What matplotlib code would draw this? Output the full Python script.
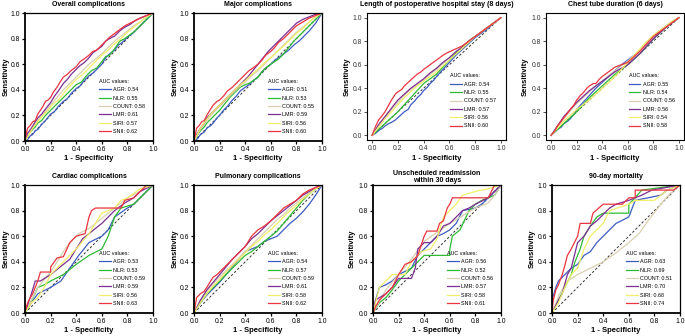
import matplotlib
matplotlib.use('Agg')
import matplotlib.pyplot as plt

plt.rcParams['font.family'] = ['Liberation Sans', 'DejaVu Sans']

# ---------------- data ----------------
names = ['AGR', 'NLR', 'COUNT', 'LMR', 'SIRI', 'SNII']
colors = ['#3d5cc0', '#2fba34', '#d8d0b0', '#7b2f91', '#f1ee6a', '#ea3440']

titles = ['Overall complications', 'Major complications',
          'Length of postoperative hospital stay (8 days)', 'Chest tube duration (6 days)',
          'Cardiac complications', 'Pulmonary complications',
          'Unscheduled readmission\nwithin 30 days', '90-day mortality']

auc_overall = [0.54, 0.55, 0.58, 0.61, 0.57, 0.62]
auc_major = [0.51, 0.53, 0.55, 0.59, 0.56, 0.60]
auc_length = [0.54, 0.55, 0.57, 0.57, 0.56, 0.60]
auc_chest = [0.55, 0.54, 0.56, 0.56, 0.54, 0.58]
auc_cardiac = [0.53, 0.53, 0.59, 0.59, 0.56, 0.63]
auc_pulm = [0.54, 0.57, 0.59, 0.61, 0.58, 0.62]
auc_readm = [0.56, 0.52, 0.56, 0.57, 0.58, 0.61]
auc_mort = [0.63, 0.69, 0.51, 0.70, 0.68, 0.74]

# ROC curves as (1-specificity, sensitivity) points
overall_AGR = [(0, 0), (0.02, 0.01), (0.04, 0.04), (0.06, 0.05), (0.08, 0.08), (0.1, 0.09), (0.13, 0.13), (0.16, 0.16), (0.2, 0.21), (0.23, 0.23), (0.26, 0.27), (0.3, 0.31), (0.33, 0.33), (0.36, 0.37), (0.4, 0.41), (0.43, 0.43), (0.46, 0.47), (0.5, 0.51), (0.53, 0.53), (0.56, 0.56), (0.6, 0.6), (0.63, 0.65), (0.66, 0.68), (0.7, 0.71), (0.73, 0.75), (0.76, 0.77), (0.8, 0.81), (0.84, 0.84), (0.88, 0.88), (0.92, 0.92), (0.96, 0.96), (1, 1)]
overall_NLR = [(0, 0), (0.02, 0.04), (0.05, 0.08), (0.08, 0.11), (0.1, 0.14), (0.13, 0.16), (0.16, 0.2), (0.2, 0.24), (0.24, 0.28), (0.28, 0.32), (0.32, 0.36), (0.36, 0.4), (0.4, 0.44), (0.44, 0.46), (0.48, 0.51), (0.52, 0.55), (0.56, 0.57), (0.6, 0.62), (0.63, 0.66), (0.66, 0.67), (0.7, 0.72), (0.74, 0.78), (0.78, 0.8), (0.82, 0.83), (0.86, 0.86), (0.9, 0.9), (0.95, 0.95), (1, 1)]
overall_COUNT = [(0, 0), (0.05, 0.09), (0.1, 0.16), (0.15, 0.22), (0.2, 0.28), (0.25, 0.34), (0.3, 0.4), (0.35, 0.45), (0.4, 0.5), (0.45, 0.55), (0.5, 0.6), (0.55, 0.64), (0.6, 0.68), (0.65, 0.73), (0.7, 0.78), (0.75, 0.82), (0.8, 0.86), (0.85, 0.9), (0.9, 0.93), (0.95, 0.97), (1, 1)]
overall_LMR = [(0, 0), (0.02, 0.06), (0.05, 0.1), (0.08, 0.15), (0.1, 0.18), (0.13, 0.21), (0.16, 0.25), (0.2, 0.3), (0.23, 0.35), (0.26, 0.39), (0.3, 0.45), (0.33, 0.48), (0.36, 0.52), (0.4, 0.56), (0.43, 0.59), (0.46, 0.61), (0.5, 0.65), (0.53, 0.69), (0.56, 0.71), (0.6, 0.74), (0.63, 0.78), (0.66, 0.8), (0.7, 0.82), (0.74, 0.86), (0.78, 0.89), (0.82, 0.91), (0.86, 0.94), (0.9, 0.96), (0.95, 0.98), (1, 1)]
overall_SIRI = [(0, 0), (0.03, 0.05), (0.06, 0.1), (0.1, 0.15), (0.14, 0.2), (0.18, 0.24), (0.22, 0.29), (0.26, 0.32), (0.3, 0.37), (0.35, 0.43), (0.4, 0.48), (0.45, 0.52), (0.5, 0.57), (0.55, 0.62), (0.6, 0.67), (0.65, 0.71), (0.7, 0.76), (0.75, 0.8), (0.8, 0.85), (0.85, 0.89), (0.9, 0.93), (0.95, 0.97), (1, 1)]
overall_SNII = [(0, 0), (0.01, 0.06), (0.02, 0.1), (0.04, 0.12), (0.06, 0.15), (0.08, 0.16), (0.1, 0.21), (0.12, 0.24), (0.14, 0.27), (0.16, 0.31), (0.18, 0.32), (0.2, 0.34), (0.22, 0.38), (0.25, 0.42), (0.28, 0.47), (0.3, 0.5), (0.33, 0.52), (0.36, 0.55), (0.4, 0.58), (0.43, 0.62), (0.46, 0.64), (0.5, 0.67), (0.53, 0.7), (0.56, 0.71), (0.6, 0.75), (0.63, 0.78), (0.66, 0.81), (0.7, 0.84), (0.74, 0.87), (0.78, 0.9), (0.82, 0.92), (0.86, 0.94), (0.9, 0.96), (0.95, 0.98), (1, 1)]

major_AGR = [(0, 0), (0.03, 0.02), (0.05, 0.05), (0.08, 0.07), (0.1, 0.1), (0.13, 0.12), (0.15, 0.14), (0.18, 0.18), (0.2, 0.2), (0.23, 0.24), (0.26, 0.27), (0.3, 0.32), (0.33, 0.35), (0.36, 0.39), (0.4, 0.42), (0.43, 0.44), (0.46, 0.47), (0.5, 0.5), (0.53, 0.54), (0.56, 0.57), (0.6, 0.6), (0.63, 0.63), (0.66, 0.65), (0.7, 0.68), (0.74, 0.71), (0.78, 0.75), (0.82, 0.78), (0.86, 0.82), (0.9, 0.86), (0.95, 0.92), (1, 1)]
major_NLR = [(0, 0), (0.03, 0.05), (0.05, 0.08), (0.08, 0.11), (0.1, 0.14), (0.13, 0.17), (0.16, 0.2), (0.2, 0.24), (0.24, 0.29), (0.28, 0.34), (0.32, 0.38), (0.36, 0.42), (0.4, 0.44), (0.43, 0.45), (0.46, 0.47), (0.5, 0.5), (0.53, 0.54), (0.56, 0.57), (0.6, 0.6), (0.63, 0.62), (0.66, 0.64), (0.7, 0.68), (0.74, 0.73), (0.78, 0.78), (0.82, 0.82), (0.86, 0.86), (0.9, 0.9), (0.95, 0.95), (1, 1)]
major_COUNT = [(0, 0), (0.05, 0.09), (0.1, 0.16), (0.15, 0.22), (0.2, 0.27), (0.25, 0.32), (0.3, 0.37), (0.35, 0.42), (0.4, 0.46), (0.45, 0.51), (0.5, 0.55), (0.55, 0.6), (0.6, 0.65), (0.65, 0.7), (0.7, 0.75), (0.75, 0.8), (0.8, 0.85), (0.85, 0.89), (0.9, 0.93), (0.95, 0.97), (1, 1)]
major_LMR = [(0, 0), (0.02, 0.05), (0.05, 0.1), (0.08, 0.14), (0.1, 0.18), (0.14, 0.22), (0.18, 0.26), (0.22, 0.3), (0.26, 0.34), (0.3, 0.38), (0.34, 0.42), (0.38, 0.46), (0.42, 0.5), (0.46, 0.55), (0.5, 0.6), (0.54, 0.65), (0.58, 0.7), (0.62, 0.74), (0.66, 0.78), (0.7, 0.82), (0.75, 0.87), (0.8, 0.92), (0.85, 0.95), (0.9, 0.97), (0.95, 0.99), (1, 1)]
major_SIRI = [(0, 0), (0.05, 0.1), (0.1, 0.17), (0.15, 0.23), (0.2, 0.28), (0.25, 0.33), (0.3, 0.38), (0.35, 0.43), (0.4, 0.47), (0.45, 0.52), (0.5, 0.56), (0.55, 0.61), (0.6, 0.65), (0.65, 0.7), (0.7, 0.74), (0.75, 0.79), (0.8, 0.84), (0.85, 0.88), (0.9, 0.93), (0.95, 0.97), (1, 1)]
major_SNII = [(0, 0), (0.01, 0.05), (0.02, 0.1), (0.04, 0.12), (0.06, 0.15), (0.08, 0.16), (0.1, 0.2), (0.13, 0.25), (0.15, 0.28), (0.18, 0.31), (0.2, 0.32), (0.23, 0.35), (0.26, 0.39), (0.3, 0.42), (0.33, 0.45), (0.36, 0.48), (0.4, 0.52), (0.43, 0.55), (0.46, 0.57), (0.5, 0.6), (0.53, 0.63), (0.56, 0.67), (0.6, 0.7), (0.63, 0.73), (0.66, 0.77), (0.7, 0.8), (0.75, 0.85), (0.8, 0.9), (0.85, 0.93), (0.9, 0.96), (0.95, 0.98), (1, 1)]

length_AGR = [(0, 0), (0.03, 0.02), (0.05, 0.04), (0.08, 0.06), (0.1, 0.08), (0.13, 0.1), (0.15, 0.11), (0.18, 0.13), (0.2, 0.15), (0.23, 0.18), (0.25, 0.2), (0.28, 0.22), (0.3, 0.26), (0.33, 0.29), (0.35, 0.32), (0.38, 0.35), (0.4, 0.38), (0.43, 0.41), (0.45, 0.44), (0.48, 0.47), (0.5, 0.5), (0.55, 0.56), (0.6, 0.62), (0.65, 0.68), (0.7, 0.73), (0.75, 0.78), (0.8, 0.83), (0.85, 0.87), (0.9, 0.91), (0.95, 0.96), (1, 1)]
length_NLR = [(0, 0), (0.05, 0.05), (0.1, 0.1), (0.15, 0.15), (0.2, 0.2), (0.25, 0.26), (0.3, 0.32), (0.35, 0.38), (0.4, 0.44), (0.45, 0.48), (0.5, 0.52), (0.55, 0.58), (0.6, 0.64), (0.65, 0.7), (0.7, 0.75), (0.75, 0.8), (0.8, 0.84), (0.85, 0.88), (0.9, 0.92), (0.95, 0.96), (1, 1)]
length_COUNT = [(0, 0), (0.05, 0.08), (0.1, 0.15), (0.15, 0.22), (0.2, 0.28), (0.25, 0.34), (0.3, 0.39), (0.35, 0.43), (0.4, 0.47), (0.45, 0.52), (0.5, 0.56), (0.55, 0.61), (0.6, 0.66), (0.65, 0.71), (0.7, 0.75), (0.75, 0.8), (0.8, 0.84), (0.85, 0.88), (0.9, 0.92), (0.95, 0.96), (1, 1)]
length_LMR = [(0, 0), (0.05, 0.09), (0.1, 0.16), (0.15, 0.23), (0.2, 0.3), (0.25, 0.35), (0.3, 0.4), (0.35, 0.44), (0.4, 0.48), (0.45, 0.53), (0.5, 0.57), (0.55, 0.62), (0.6, 0.66), (0.65, 0.71), (0.7, 0.75), (0.75, 0.8), (0.8, 0.84), (0.85, 0.88), (0.9, 0.92), (0.95, 0.96), (1, 1)]
length_SIRI = [(0, 0), (0.05, 0.07), (0.1, 0.14), (0.15, 0.2), (0.2, 0.26), (0.25, 0.32), (0.3, 0.37), (0.35, 0.42), (0.4, 0.46), (0.45, 0.5), (0.5, 0.54), (0.55, 0.59), (0.6, 0.64), (0.65, 0.69), (0.7, 0.74), (0.75, 0.79), (0.8, 0.84), (0.85, 0.88), (0.9, 0.92), (0.95, 0.96), (1, 1)]
length_SNII = [(0, 0), (0.02, 0.06), (0.05, 0.13), (0.08, 0.17), (0.1, 0.2), (0.13, 0.26), (0.15, 0.3), (0.18, 0.35), (0.2, 0.37), (0.23, 0.39), (0.25, 0.42), (0.28, 0.45), (0.3, 0.47), (0.33, 0.5), (0.35, 0.52), (0.38, 0.54), (0.4, 0.56), (0.45, 0.6), (0.5, 0.64), (0.55, 0.68), (0.58, 0.7), (0.62, 0.72), (0.66, 0.74), (0.7, 0.76), (0.75, 0.8), (0.8, 0.84), (0.85, 0.88), (0.9, 0.92), (0.95, 0.96), (1, 1)]

chest_AGR = [(0, 0), (0.03, 0.03), (0.05, 0.05), (0.08, 0.07), (0.1, 0.1), (0.13, 0.12), (0.15, 0.14), (0.18, 0.18), (0.2, 0.22), (0.25, 0.28), (0.3, 0.34), (0.35, 0.4), (0.4, 0.45), (0.45, 0.5), (0.5, 0.55), (0.55, 0.6), (0.6, 0.64), (0.65, 0.68), (0.7, 0.73), (0.75, 0.79), (0.8, 0.84), (0.85, 0.89), (0.9, 0.93), (0.95, 0.97), (1, 1)]
chest_NLR = [(0, 0), (0.05, 0.05), (0.1, 0.1), (0.15, 0.15), (0.2, 0.2), (0.25, 0.26), (0.3, 0.32), (0.35, 0.37), (0.4, 0.42), (0.45, 0.47), (0.5, 0.52), (0.55, 0.56), (0.6, 0.6), (0.65, 0.65), (0.7, 0.7), (0.75, 0.76), (0.8, 0.82), (0.85, 0.87), (0.9, 0.92), (0.95, 0.96), (1, 1)]
chest_COUNT = [(0, 0), (0.05, 0.07), (0.1, 0.14), (0.15, 0.21), (0.2, 0.27), (0.25, 0.32), (0.3, 0.37), (0.35, 0.42), (0.4, 0.46), (0.45, 0.51), (0.5, 0.55), (0.55, 0.59), (0.6, 0.63), (0.65, 0.68), (0.7, 0.73), (0.75, 0.79), (0.8, 0.84), (0.85, 0.89), (0.9, 0.93), (0.95, 0.97), (1, 1)]
chest_LMR = [(0, 0), (0.05, 0.08), (0.1, 0.16), (0.15, 0.22), (0.2, 0.28), (0.25, 0.33), (0.3, 0.38), (0.35, 0.42), (0.4, 0.46), (0.45, 0.5), (0.5, 0.54), (0.55, 0.57), (0.6, 0.6), (0.65, 0.65), (0.7, 0.7), (0.75, 0.76), (0.8, 0.82), (0.85, 0.87), (0.9, 0.92), (0.95, 0.96), (1, 1)]
chest_SIRI = [(0, 0), (0.05, 0.06), (0.1, 0.12), (0.15, 0.17), (0.2, 0.22), (0.25, 0.26), (0.3, 0.3), (0.35, 0.35), (0.4, 0.4), (0.45, 0.45), (0.5, 0.5), (0.55, 0.56), (0.6, 0.62), (0.65, 0.68), (0.7, 0.74), (0.75, 0.8), (0.8, 0.85), (0.85, 0.89), (0.9, 0.93), (0.95, 0.97), (1, 1)]
chest_SNII = [(0, 0), (0.03, 0.04), (0.05, 0.08), (0.08, 0.12), (0.1, 0.15), (0.13, 0.19), (0.15, 0.22), (0.18, 0.26), (0.2, 0.3), (0.23, 0.34), (0.25, 0.36), (0.28, 0.4), (0.3, 0.42), (0.33, 0.44), (0.35, 0.44), (0.38, 0.48), (0.4, 0.5), (0.45, 0.54), (0.5, 0.58), (0.55, 0.6), (0.6, 0.62), (0.65, 0.67), (0.7, 0.72), (0.75, 0.78), (0.8, 0.84), (0.85, 0.88), (0.9, 0.92), (0.95, 0.96), (1, 1)]

cardiac_AGR = [(0, 0), (0.05, 0.08), (0.1, 0.15), (0.2, 0.2), (0.28, 0.25), (0.35, 0.35), (0.42, 0.45), (0.5, 0.55), (0.6, 0.6), (0.65, 0.65), (0.7, 0.75), (0.8, 0.82), (0.85, 0.85), (0.9, 0.9), (1, 1)]
cardiac_NLR = [(0, 0), (0.03, 0.05), (0.1, 0.2), (0.15, 0.22), (0.2, 0.25), (0.3, 0.3), (0.4, 0.38), (0.5, 0.45), (0.6, 0.5), (0.65, 0.6), (0.7, 0.75), (0.75, 0.82), (0.85, 0.85), (0.9, 0.9), (1, 1)]
cardiac_COUNT = [(0, 0), (0.05, 0.1), (0.1, 0.2), (0.2, 0.32), (0.3, 0.48), (0.35, 0.55), (0.42, 0.62), (0.5, 0.66), (0.6, 0.74), (0.7, 0.82), (0.8, 0.9), (0.9, 0.95), (1, 1)]
cardiac_LMR = [(0, 0), (0.05, 0.15), (0.08, 0.25), (0.12, 0.25), (0.2, 0.3), (0.3, 0.38), (0.35, 0.42), (0.4, 0.5), (0.45, 0.58), (0.5, 0.62), (0.55, 0.66), (0.6, 0.7), (0.65, 0.75), (0.7, 0.8), (0.78, 0.86), (0.85, 0.9), (0.9, 0.95), (1, 1)]
cardiac_SIRI = [(0, 0), (0.05, 0.08), (0.1, 0.12), (0.15, 0.2), (0.2, 0.3), (0.3, 0.4), (0.4, 0.5), (0.5, 0.62), (0.55, 0.7), (0.6, 0.78), (0.7, 0.82), (0.75, 0.88), (0.8, 0.9), (0.9, 0.97), (1, 1)]
cardiac_SNII = [(0, 0), (0.01, 0.05), (0.03, 0.1), (0.06, 0.15), (0.08, 0.2), (0.1, 0.25), (0.12, 0.32), (0.2, 0.32), (0.2, 0.36), (0.25, 0.43), (0.3, 0.44), (0.35, 0.55), (0.4, 0.6), (0.47, 0.62), (0.5, 0.75), (0.52, 0.8), (0.55, 0.82), (0.75, 0.82), (0.78, 0.88), (0.85, 0.9), (0.9, 0.95), (0.95, 1.0), (1, 1)]

pulm_AGR = [(0, 0), (0.05, 0.08), (0.1, 0.14), (0.15, 0.19), (0.2, 0.24), (0.25, 0.3), (0.3, 0.36), (0.35, 0.42), (0.4, 0.48), (0.45, 0.5), (0.5, 0.52), (0.55, 0.56), (0.6, 0.58), (0.65, 0.6), (0.7, 0.65), (0.75, 0.7), (0.8, 0.74), (0.85, 0.79), (0.9, 0.85), (0.95, 0.92), (1, 1)]
pulm_NLR = [(0, 0), (0.05, 0.08), (0.1, 0.15), (0.15, 0.2), (0.2, 0.25), (0.25, 0.3), (0.3, 0.35), (0.35, 0.4), (0.4, 0.45), (0.45, 0.48), (0.5, 0.52), (0.55, 0.56), (0.6, 0.6), (0.65, 0.64), (0.7, 0.7), (0.75, 0.76), (0.8, 0.82), (0.85, 0.88), (0.9, 0.93), (0.95, 0.97), (1, 1)]
pulm_COUNT = [(0, 0), (0.05, 0.1), (0.1, 0.17), (0.15, 0.23), (0.2, 0.28), (0.25, 0.33), (0.3, 0.38), (0.35, 0.43), (0.4, 0.48), (0.45, 0.53), (0.5, 0.58), (0.55, 0.63), (0.6, 0.68), (0.65, 0.73), (0.7, 0.77), (0.75, 0.82), (0.8, 0.86), (0.85, 0.9), (0.9, 0.94), (0.95, 0.97), (1, 1)]
pulm_LMR = [(0, 0), (0.05, 0.1), (0.1, 0.18), (0.15, 0.24), (0.2, 0.3), (0.25, 0.36), (0.3, 0.42), (0.35, 0.47), (0.4, 0.52), (0.45, 0.58), (0.5, 0.62), (0.55, 0.67), (0.6, 0.72), (0.65, 0.76), (0.7, 0.8), (0.75, 0.84), (0.8, 0.88), (0.85, 0.92), (0.9, 0.95), (0.95, 0.98), (1, 1)]
pulm_SIRI = [(0, 0), (0.05, 0.08), (0.1, 0.15), (0.15, 0.21), (0.2, 0.26), (0.25, 0.32), (0.3, 0.37), (0.35, 0.42), (0.4, 0.47), (0.45, 0.52), (0.5, 0.56), (0.55, 0.61), (0.6, 0.65), (0.65, 0.7), (0.7, 0.75), (0.75, 0.8), (0.8, 0.84), (0.85, 0.89), (0.9, 0.93), (0.95, 0.97), (1, 1)]
pulm_SNII = [(0, 0), (0.02, 0.12), (0.05, 0.15), (0.08, 0.17), (0.1, 0.2), (0.13, 0.25), (0.15, 0.28), (0.18, 0.3), (0.2, 0.32), (0.25, 0.37), (0.3, 0.42), (0.35, 0.47), (0.4, 0.52), (0.45, 0.6), (0.5, 0.65), (0.55, 0.68), (0.6, 0.72), (0.65, 0.77), (0.7, 0.82), (0.75, 0.85), (0.8, 0.88), (0.85, 0.93), (0.9, 0.96), (0.95, 0.98), (1, 1)]

readm_AGR = [(0, 0), (0.02, 0.1), (0.05, 0.2), (0.1, 0.22), (0.15, 0.25), (0.2, 0.3), (0.3, 0.35), (0.35, 0.45), (0.4, 0.5), (0.45, 0.55), (0.5, 0.6), (0.55, 0.62), (0.6, 0.65), (0.65, 0.7), (0.7, 0.8), (0.8, 0.82), (0.85, 0.85), (0.9, 0.9), (1, 1)]
readm_NLR = [(0, 0), (0.05, 0.08), (0.1, 0.12), (0.15, 0.18), (0.2, 0.25), (0.3, 0.35), (0.35, 0.4), (0.4, 0.45), (0.6, 0.45), (0.6, 0.5), (0.62, 0.6), (0.68, 0.65), (0.75, 0.8), (0.8, 0.85), (0.85, 0.88), (0.9, 0.9), (0.95, 0.92), (1, 1)]
readm_COUNT = [(0, 0), (0.1, 0.18), (0.2, 0.3), (0.3, 0.42), (0.4, 0.56), (0.5, 0.63), (0.6, 0.7), (0.7, 0.76), (0.8, 0.82), (0.9, 0.86), (0.95, 0.92), (1, 1)]
readm_LMR = [(0, 0), (0.02, 0.1), (0.05, 0.12), (0.1, 0.15), (0.15, 0.2), (0.2, 0.27), (0.3, 0.27), (0.33, 0.35), (0.35, 0.5), (0.4, 0.55), (0.45, 0.55), (0.5, 0.6), (0.55, 0.68), (0.6, 0.7), (0.7, 0.8), (0.75, 0.82), (0.8, 0.85), (0.9, 0.9), (0.95, 0.95), (1, 1)]
readm_SIRI = [(0, 0), (0.05, 0.2), (0.1, 0.25), (0.15, 0.3), (0.25, 0.3), (0.3, 0.4), (0.38, 0.48), (0.45, 0.5), (0.5, 0.58), (0.55, 0.75), (0.6, 0.8), (0.65, 0.85), (0.7, 0.92), (0.8, 0.95), (0.9, 0.97), (1, 1)]
readm_SNII = [(0, 0), (0.02, 0.05), (0.05, 0.1), (0.1, 0.15), (0.15, 0.2), (0.2, 0.3), (0.25, 0.38), (0.3, 0.4), (0.35, 0.45), (0.4, 0.6), (0.42, 0.64), (0.5, 0.64), (0.52, 0.7), (0.55, 0.72), (0.58, 0.82), (0.6, 0.85), (0.62, 0.9), (0.9, 0.9), (0.95, 1.0), (1, 1)]

mort_AGR = [(0, 0), (0.0, 0.1), (0.03, 0.2), (0.05, 0.25), (0.1, 0.3), (0.15, 0.35), (0.2, 0.38), (0.25, 0.45), (0.3, 0.48), (0.35, 0.55), (0.4, 0.6), (0.45, 0.65), (0.5, 0.7), (0.6, 0.75), (0.65, 0.88), (0.75, 0.9), (0.85, 0.92), (0.9, 0.96), (1, 1)]
mort_NLR = [(0, 0), (0.05, 0.1), (0.1, 0.2), (0.15, 0.3), (0.18, 0.4), (0.22, 0.5), (0.25, 0.6), (0.3, 0.68), (0.35, 0.75), (0.4, 0.78), (0.6, 0.78), (0.6, 0.85), (0.65, 0.9), (0.7, 0.96), (1, 1)]
mort_COUNT = [(0, 0), (0.06, 0.15), (0.12, 0.25), (0.2, 0.3), (0.3, 0.35), (0.4, 0.4), (0.5, 0.47), (0.6, 0.55), (0.68, 0.62), (0.75, 0.72), (0.85, 0.85), (0.92, 0.93), (1, 1)]
mort_LMR = [(0, 0), (0.05, 0.1), (0.08, 0.15), (0.12, 0.3), (0.15, 0.35), (0.2, 0.55), (0.25, 0.6), (0.3, 0.68), (0.35, 0.72), (0.45, 0.82), (0.5, 0.85), (0.6, 0.88), (0.7, 0.92), (0.78, 0.96), (1, 1)]
mort_SIRI = [(0, 0), (0.05, 0.08), (0.1, 0.2), (0.15, 0.3), (0.2, 0.35), (0.25, 0.5), (0.3, 0.6), (0.35, 0.65), (0.4, 0.7), (0.45, 0.8), (0.6, 0.85), (0.65, 0.88), (0.8, 0.88), (0.85, 0.92), (0.9, 0.96), (1, 1)]
mort_SNII = [(0, 0), (0.01, 0.1), (0.03, 0.18), (0.05, 0.22), (0.08, 0.3), (0.1, 0.37), (0.12, 0.45), (0.15, 0.5), (0.2, 0.6), (0.22, 0.7), (0.3, 0.7), (0.32, 0.78), (0.4, 0.85), (0.55, 0.85), (0.6, 0.9), (0.65, 0.9), (0.65, 0.96), (0.95, 0.96), (1, 1)]

ticks = [0.0, 0.2, 0.4, 0.6, 0.8, 1.0]
tick_labels = ['0.0', '0.2', '0.4', '0.6', '0.8', '1.0']

# ---------------- layout ----------------
W, H = 685, 336
fig = plt.figure(figsize=(W / 100, H / 100), dpi=100)


def add_ax(l, t, r, b):
    return fig.add_axes([l / W, 1 - b / H, (r - l) / W, (b - t) / H])


panels = [
    # title, aucs, curves, style, (l, t, r, b) px, title y, ylabel x, xlabel y
    (titles[0], auc_overall, [overall_AGR, overall_NLR, overall_COUNT, overall_LMR, overall_SIRI, overall_SNII], 'prism', (25, 13, 153, 141), 5, 6, 158),
    (titles[1], auc_major, [major_AGR, major_NLR, major_COUNT, major_LMR, major_SIRI, major_SNII], 'prism', (194, 13, 322, 141), 5, 175, 158),
    (titles[2], auc_length, [length_AGR, length_NLR, length_COUNT, length_LMR, length_SIRI, length_SNII], 'gg', (367, 13, 506, 140), 5, 347, 158),
    (titles[3], auc_chest, [chest_AGR, chest_NLR, chest_COUNT, chest_LMR, chest_SIRI, chest_SNII], 'gg', (546, 13, 684, 140), 5, 525, 158),
    (titles[4], auc_cardiac, [cardiac_AGR, cardiac_NLR, cardiac_COUNT, cardiac_LMR, cardiac_SIRI, cardiac_SNII], 'prism', (25, 185, 153, 313), 176, 6, 331),
    (titles[5], auc_pulm, [pulm_AGR, pulm_NLR, pulm_COUNT, pulm_LMR, pulm_SIRI, pulm_SNII], 'prism', (194, 185, 322, 313), 176, 175, 331),
    (titles[6], auc_readm, [readm_AGR, readm_NLR, readm_COUNT, readm_LMR, readm_SIRI, readm_SNII], 'prism', (373, 185, 501, 313), 177, 352, 331),
    (titles[7], auc_mort, [mort_AGR, mort_NLR, mort_COUNT, mort_LMR, mort_SIRI, mort_SNII], 'prism', (552, 185, 680, 313), 176, 532, 331),
]

for title, aucs, curves, style, (l, t, r, b), ty, ylx, xly in panels:
    ax = add_ax(l, t, r, b)
    ax.plot([0, 1], [0, 1], color='#333333', lw=0.7, ls=(0, (2.5, 2)))
    for pts, name, col, auc in zip(curves, names, colors, aucs):
        xs = [p[0] for p in pts]
        ys = [p[1] for p in pts]
        ax.plot(xs, ys, color=col, lw=0.9, label=f'{name}: {auc:.2f}')
    ax.set_xticks(ticks)
    ax.set_yticks(ticks)
    ax.set_xticklabels(tick_labels)
    ax.set_yticklabels(tick_labels)
    if style == 'prism':
        ax.set_xlim(0, 1)
        ax.set_ylim(0, 1)
        for s in ['left', 'bottom']:
            ax.spines[s].set_linewidth(1.3)
        for s in ['top', 'right']:
            ax.spines[s].set_linewidth(0.9)
        ax.tick_params(direction='out', length=2.5, width=0.9, labelsize=4.9, pad=1.2, colors='black')
        leg_anchor = (0.58, 0.485)
    else:
        ax.set_xlim(-0.04, 1.04)
        ax.set_ylim(-0.04, 1.04)
        for s in ax.spines.values():
            s.set_linewidth(0.8)
        ax.tick_params(direction='out', length=2.2, width=0.6, labelsize=4.9, pad=1.5,
                       color='#333333', labelcolor='#333333')
        leg_anchor = (0.6, 0.525)
    leg = ax.legend(loc='upper left', bbox_to_anchor=leg_anchor, frameon=False,
                    title='AUC values:', fontsize=3.9, title_fontsize=3.9,
                    handlelength=2.1, handletextpad=0.45, labelspacing=0.62,
                    borderpad=0, borderaxespad=0, alignment='left')
    for line in leg.get_lines():
        line.set_linewidth(0.9)
    # title and axis labels
    fig.text((l + r) / 2 / W, 1 - ty / H, title, ha='center', va='center',
             fontsize=5.0, fontweight='bold', linespacing=0.95)
    fig.text(ylx / W, 1 - ((t + b) / 2) / H, 'Sensitivity', ha='center', va='center',
             rotation=90, fontsize=5.5, fontweight='bold')
    fig.text((l + r) / 2 / W, 1 - xly / H, '1 - Specificity', ha='center', va='center',
             fontsize=5.5, fontweight='bold')

fig.savefig('out.png', dpi=100)
